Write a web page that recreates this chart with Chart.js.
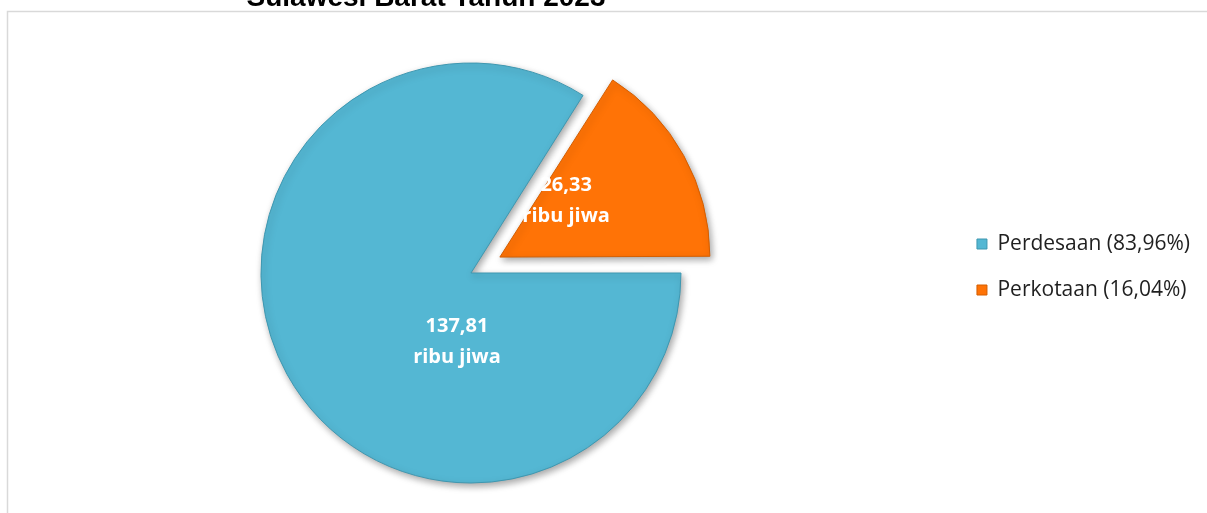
<!DOCTYPE html>
<html>
<head>
<meta charset="utf-8">
<script src="https://cdn.jsdelivr.net/npm/chart.js@4/dist/chart.umd.min.js"></script>
<style>
  html, body { margin: 0; padding: 0; background: #ffffff; }
  #wrap { position: relative; width: 1207px; height: 513px; overflow: hidden; }
  #c { position: absolute; left: -10px; top: 0; display: block; }
</style>
</head>
<body>
<div id="wrap"><canvas id="c" width="1217" height="513"></canvas></div>
<script>
// ---- data ----
const categories = ['Perdesaan', 'Perkotaan'];
const values = [137.81, 26.33];          // ribu jiwa
const unitLabel = 'ribu jiwa';
const titleText = 'Sulawesi Barat Tahun 2023';

// ---- style ----
const shiftX = 10;                          // canvas sits 10px left of the page edge
const sliceColors = ['#54B7D3', '#FF7306'];
const sliceBorders = ['#3E97B0', '#D45E00'];
const sliceOffsets = [0, 132];              // Chart.js translates by offset/4
const labelRadiusFrac = [0.335, 0.425];
const labelAngleDeg = [101.5, -40.5];

const total = values.reduce((a, b) => a + b, 0);
const fmt = (v, d) => v.toFixed(d).replace('.', ',');

const framePlugin = {
  id: 'frame',
  beforeDraw(chart) {
    const ctx = chart.ctx;
    ctx.save();
    ctx.strokeStyle = '#D9D9D9';
    ctx.lineWidth = 1.5;
    ctx.strokeRect(7.5 + shiftX, 11.5, 1400, 700);
    ctx.restore();
  },
  afterDraw(chart) {
    const ctx = chart.ctx;
    ctx.save();
    ctx.fillStyle = '#000000';
    ctx.font = 'bold 28px "Liberation Sans", Arial, sans-serif';
    ctx.textAlign = 'center';
    ctx.textBaseline = 'alphabetic';
    ctx.fillText(titleText, 426 + shiftX, 6);
    ctx.restore();
  }
};

const radiusFix = {
  id: 'radiusFix',
  afterDatasetUpdate(chart, args) {
    args.meta.data.forEach(arc => {
      const off = ((arc.options && arc.options.offset) || 0) / 4;
      if (off) {
        arc.outerRadius -= off * (1 - Math.sin(Math.min(Math.PI, arc.circumference)));
      }
    });
  }
};

const shadowPlugin = {
  id: 'shadow',
  beforeDatasetDraw(chart) {
    const ctx = chart.ctx;
    ctx.save();
    ctx.shadowColor = 'rgba(0,0,0,0.35)';
    ctx.shadowBlur = 7;
    ctx.shadowOffsetX = 2;
    ctx.shadowOffsetY = 3;
  },
  afterDatasetDraw(chart) {
    chart.ctx.restore();
  }
};

const valueLabels = {
  id: 'valueLabels',
  afterDatasetsDraw(chart) {
    const ctx = chart.ctx;
    const meta = chart.getDatasetMeta(0);
    ctx.save();
    ctx.fillStyle = '#FFFFFF';
    ctx.font = 'bold 20px "Open Sans", sans-serif';
    ctx.textAlign = 'center';
    ctx.textBaseline = 'middle';
    meta.data.forEach((arc, i) => {
      const mid = (arc.startAngle + arc.endAngle) / 2;
      const t = ((arc.options && arc.options.offset) || 0) / 4;
      const cx = arc.x + Math.cos(mid) * t;
      const cy = arc.y + Math.sin(mid) * t;
      const a = labelAngleDeg[i] * Math.PI / 180;
      const r = arc.outerRadius * labelRadiusFrac[i];
      const x = cx + Math.cos(a) * r;
      const y = cy + Math.sin(a) * r;
      ctx.fillText(fmt(values[i], 2), x, y - 15.5);
      ctx.fillText(unitLabel, x, y + 15.5);
    });
    ctx.restore();
  }
};

new Chart(document.getElementById('c'), {
  type: 'pie',
  data: {
    labels: categories,
    datasets: [{
      data: values,
      backgroundColor: sliceColors,
      borderColor: sliceBorders,
      borderWidth: 1,
      offset: sliceOffsets,
      rotation: 90,
      radius: 210,
      cutout: '0%',
      clip: false
    }]
  },
  options: {
    responsive: false,
    animation: false,
    events: [],
    rotation: 90,
    radius: 210,
    cutout: '0%',
    layout: { padding: { left: 0, right: 7, top: 208.5, bottom: 175.5 } },
    plugins: {
      tooltip: { enabled: false },
      title: { display: false },
      legend: {
        display: true,
        position: 'right',
        align: 'start',
        labels: {
          boxWidth: 10,
          boxHeight: 10,
          padding: 25,
          color: '#1F1F1F',
          font: { family: '"Open Sans", sans-serif', size: 21 },
          generateLabels(chart) {
            const items = Chart.overrides.pie.plugins.legend.labels.generateLabels(chart);
            items.forEach((it, i) => {
              it.text = categories[i] + ' (' + fmt(values[i] / total * 100, 2) + '%)';
            });
            return items;
          }
        }
      }
    }
  },
  plugins: [framePlugin, radiusFix, shadowPlugin, valueLabels]
});
</script>
</body>
</html>
